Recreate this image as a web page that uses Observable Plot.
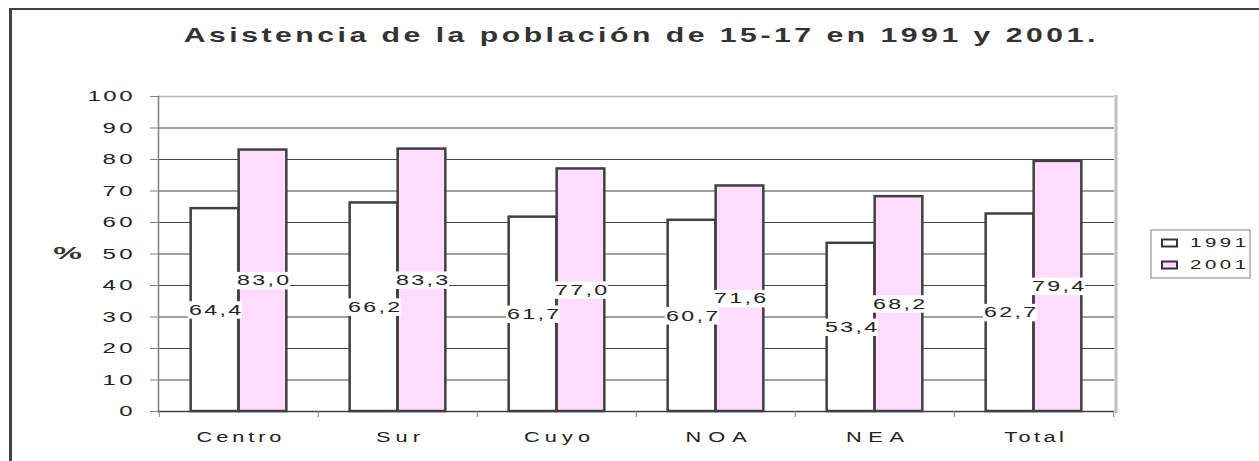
<!DOCTYPE html>
<html><head><meta charset="utf-8">
<script src="https://cdn.jsdelivr.net/npm/d3@7"></script>
<script src="https://cdn.jsdelivr.net/npm/@observablehq/plot@0.6"></script>
<style>
html,body{margin:0;padding:0;overflow:hidden;background:#fff;width:1259px;height:461px}
#chart{position:absolute;left:0;top:0}
#border{position:absolute;left:9px;top:8px;width:1300px;height:500px;border-left:3px solid #444;border-top:2px solid #444;pointer-events:none}
</style></head><body>
<div id="chart"></div><div id="border"></div>
<script>
const title = "Asistencia de la población de 15-17 en 1991 y 2001.";
const yLabel = "%";
const categories = ["Centro", "Sur", "Cuyo", "NOA", "NEA", "Total"];
const years = ["1991", "2001"];
const values1991 = [64.4, 66.2, 61.7, 60.7, 53.4, 62.7];
const values2001 = [83.0, 83.3, 77.0, 71.6, 68.2, 79.4];
const yTicks = [0, 10, 20, 30, 40, 50, 60, 70, 80, 90, 100];
const gridTicks = [10, 20, 30, 40, 50, 60, 70, 80, 90];
const colors = ["#ffffff", "#ffdcff"];

const data = categories.flatMap((c, i) => [
  {category: c, year: years[0], value: values1991[i]},
  {category: c, year: years[1], value: values2001[i]}
]);
const d1991 = data.filter(d => d.year === years[0]);
const d2001 = data.filter(d => d.year === years[1]);
const fmt = d => d.value.toFixed(1).replace(".", ",");

const W = 1259, H = 461, mL = 158, mR = 145, mT = 96, mB = 50;
const bw = (W - mL - mR) / categories.length;
const barW = 48;
const pad = (bw - 2 * barW) / 2;
const font = "'Liberation Sans', Arial, sans-serif";

const plot = Plot.plot({
  width: W, height: H,
  marginLeft: mL, marginRight: mR, marginTop: mT, marginBottom: mB,
  style: {fontFamily: font, fontSize: "14.5px", background: "transparent", overflow: "visible"},
  x: {domain: categories, padding: 0},
  y: {domain: [0, 100]},
  color: {domain: years, range: colors},
  marks: [
    Plot.gridY({ticks: gridTicks, stroke: "#444", strokeOpacity: 1, strokeWidth: 1}),
    Plot.ruleY([100], {stroke: "#b8b8b8", strokeWidth: 1.5}),
    Plot.barY(d1991, {x: "category", y: "value", fill: "year", stroke: "#404040", strokeWidth: 2.5,
      insetLeft: pad, insetRight: pad + barW}),
    Plot.barY(d2001, {x: "category", y: "value", fill: "year", stroke: "#404040", strokeWidth: 2.5,
      insetLeft: pad + barW, insetRight: pad}),
    Plot.frame({anchor: "left", stroke: "#808080", strokeWidth: 1.5}),
    Plot.frame({anchor: "right", stroke: "#c0c0c0", strokeWidth: 3, dx: 1.5}),
    Plot.ruleY([0], {stroke: "#404040", strokeWidth: 1.5}),
    Plot.text(d1991, {x: "category", y: d => d.value / 2, text: fmt, dx: -barW / 2, fill: "#222", fontSize: 14.5}),
    Plot.text(d2001, {x: "category", y: d => d.value / 2, text: fmt, dx: barW / 2, fill: "#222", fontSize: 14.5}),
    Plot.axisY({ticks: yTicks, tickSize: 8, tickPadding: 18, stroke: "#808080", fill: "#222", fontSize: 15, label: null}),
    Plot.axisX({tickSize: 0, tickPadding: 20, fill: "#222", fontSize: 14.5, label: null}),
    Plot.axisX({tickSize: 6, dx: -bw / 2, stroke: "#808080", fill: "none", label: null}),
    Plot.axisX({ticks: [categories[categories.length - 1]], tickSize: 6, dx: bw / 2, stroke: "#808080", fill: "none", label: null}),
    Plot.text([title], {frameAnchor: "top", lineAnchor: "middle", dy: 35 - mT, dx: 3, fontSize: 19.5, fontWeight: "bold", fill: "#333"}),
    Plot.text([yLabel], {frameAnchor: "left", textAnchor: "middle", dx: 67 - mL, fontSize: 17, fontWeight: "bold", fill: "#333"})
  ]
});
document.getElementById("chart").appendChild(plot);

// widen a text element around its anchor: glyph scale g plus letter spacing
function stretch(el, F, target, g = 1.35) {
  const L = el.getComputedTextLength();
  if (!(L > 0)) return {sp: 0};
  const n = el.textContent.length;
  const T = target != null ? target : F * L;
  const gg = Math.min(g, T / L);
  const sp = n > 1 ? (T / gg - L) / (n - 1) : 0;
  el.style.letterSpacing = sp + "px";
  const anchor = getComputedStyle(el).textAnchor;
  const shift = anchor === "middle" ? sp / 2 : anchor === "end" ? sp : 0;
  const ax = parseFloat(el.getAttribute("x")) || 0;
  const t = el.getAttribute("transform") || "";
  el.setAttribute("transform", `${t} translate(${ax},0) scale(${gg},1) translate(${-ax + shift},0)`);
  return {sp};
}
const labelTexts = new Set(data.map(fmt));
Array.from(plot.querySelectorAll("text")).forEach(el => {
  const s = el.textContent;
  if (s === title) stretch(el, 1, 912, 1.55);
  else if (s === yLabel) stretch(el, 1.9, null, 1.9);
  else if (categories.includes(s)) stretch(el, 1.95, null, 1.5);
  else if (labelTexts.has(s)) {
    const {sp} = stretch(el, 1.85, null, 1.6);
    const b = el.getBBox();
    const r = document.createElementNS("http://www.w3.org/2000/svg", "rect");
    r.setAttribute("x", b.x - 0.6);
    r.setAttribute("y", b.y);
    r.setAttribute("width", b.width - sp + 1.2);
    r.setAttribute("height", b.height + 1);
    r.setAttribute("fill", "#fff");
    r.setAttribute("transform", el.getAttribute("transform"));
    el.parentNode.insertBefore(r, el);
  }
  else if (yTicks.map(String).includes(s)) stretch(el, 1.8, null, 1.6);
});

// legend
const svg = d3.select(plot);
const lg = svg.append("g").attr("aria-label", "legend").attr("text-anchor", "start");
lg.append("rect").attr("x", 1151).attr("y", 230).attr("width", 99).attr("height", 48)
  .attr("fill", "#fff").attr("stroke", "#808080").attr("stroke-width", 1);
years.forEach((yr, i) => {
  const cy = 243 + i * 22;
  lg.append("rect").attr("x", 1162).attr("y", cy - 3.5).attr("width", 15).attr("height", 7)
    .attr("fill", colors[i]).attr("stroke", "#333").attr("stroke-width", 2);
  const t = lg.append("text").attr("x", 1190).attr("y", cy + 4.5)
    .attr("font-family", font).attr("font-size", 12).attr("fill", "#222").text(yr);
  stretch(t.node(), 2.1, null, 1.7);
});
</script>
</body></html>
